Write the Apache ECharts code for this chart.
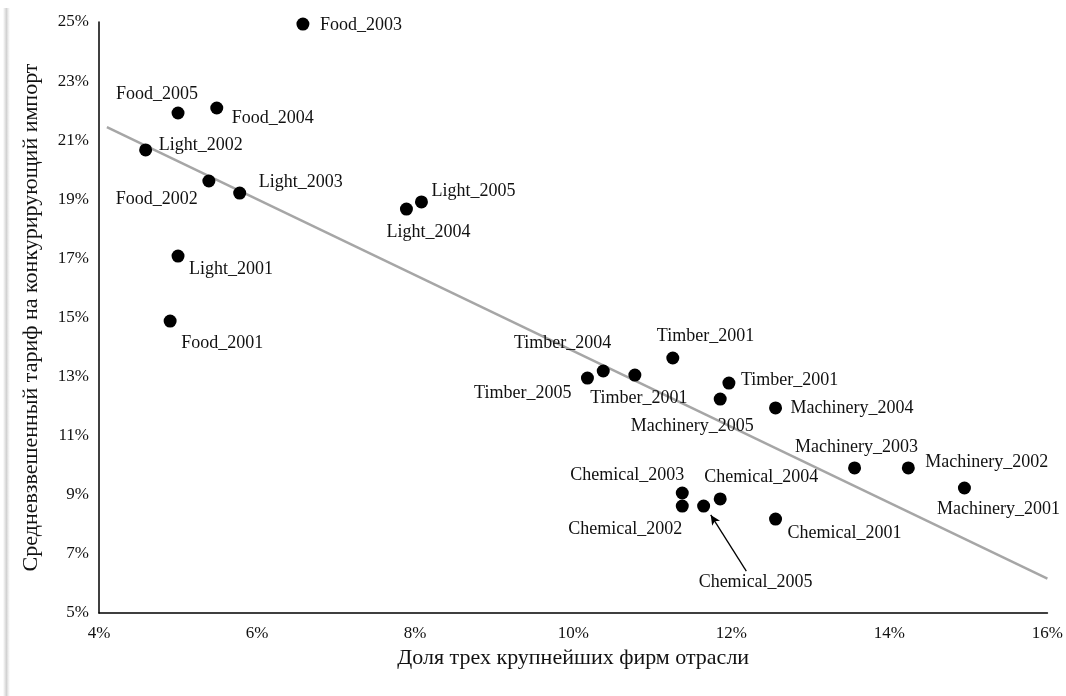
<!DOCTYPE html>
<html>
<head>
<meta charset="utf-8">
<script src="https://cdn.jsdelivr.net/npm/echarts@6/dist/echarts.min.js"></script>
<style>html,body{margin:0;padding:0;background:#fff;}#c{width:1066px;height:696px;}</style>
</head>
<body>
<div id="c"></div>
<script>
// ---- data ----
var pointNames = ['Food_2003','Food_2005','Food_2004','Light_2002','Food_2002','Light_2003','Light_2001','Food_2001',
  'Light_2004','Light_2005','Timber_2005','Timber_2004','Timber_2001','Timber_2001','Timber_2001',
  'Machinery_2005','Machinery_2004','Machinery_2003','Machinery_2002','Machinery_2001',
  'Chemical_2003','Chemical_2002','Chemical_2005','Chemical_2004','Chemical_2001'];
// share of three largest firms, %
var concentration = [6.58,5.00,5.49,4.59,5.39,5.78,5.00,4.90,
  7.89,8.08,10.18,10.38,10.78,11.26,11.97,
  11.86,12.56,13.56,14.24,14.95,
  11.38,11.38,11.65,11.86,12.56];
// weighted average tariff, %
var tariff = [24.93,21.92,22.09,20.67,19.62,19.21,17.08,14.88,
  18.67,18.91,12.95,13.19,13.05,13.63,12.78,
  12.24,11.94,9.91,9.91,9.23,
  9.06,8.62,8.62,8.86,8.18];
var trendX = [4.1, 16];
var trendY = [21.44, 6.16];
var xTicks = [4,6,8,10,12,14,16];
var yTicks = [5,7,9,11,13,15,17,19,21,23,25];
var arrowFrom = [12.19, 6.42];
var arrowTo = [11.74, 8.32];

// ---- label layout (offset from dot centre, alignment) ----
var labelLayout = [
  [17,1,'left'],[-21,-19,'center'],[15,10,'left'],[13,-5,'left'],[-11,18,'right'],[19,-11,'left'],[11,13,'left'],[11,22,'left'],
  [-20,23,'left'],[10,-11,'left'],[-16,15,'right'],[8,-28,'right'],[4,23,'center'],[-16,-22,'left'],[12,-3,'left'],
  [-28,27,'center'],[15,0,'left'],[2,-21,'center'],[17,-6,'left'],[34,21,'center'],
  [2,-18,'right'],[0,23,'right'],[52,76,'center'],[-16,-22,'left'],[12,14,'left']
];

var FONT = 'Liberation Serif';
var TXT = '#111';
var pts = pointNames.map(function(n,i){
  var l = labelLayout[i];
  return {
    name: n,
    value: [concentration[i], tariff[i]],
    label: {show:true, position:'inside', offset:[l[0], l[1]], align:l[2], verticalAlign:'middle',
      formatter: n, color:TXT, fontFamily:FONT, fontSize:18}
  };
});

var chart = echarts.init(document.getElementById('c'), null, {renderer:'canvas'});
chart.setOption({
  animation:false,
  backgroundColor:'#fff',
  graphic:[{
    type:'rect', left:3, top:8, shape:{width:7,height:688}, silent:true,
    style:{fill:new echarts.graphic.LinearGradient(0,0,1,0,[
      {offset:0,color:'rgba(200,200,200,0)'},{offset:0.5,color:'rgba(205,205,205,0.9)'},{offset:1,color:'rgba(220,220,220,0)'}])}
  }],
  grid:{left:99, right:17, top:22, bottom:83, containLabel:false},
  xAxis:{
    type:'value', min:xTicks[0], max:xTicks[xTicks.length-1], interval:2,
    name:'Доля трех крупнейших фирм отрасли', nameLocation:'middle', nameGap:34,
    nameTextStyle:{fontFamily:FONT, fontSize:22, color:TXT},
    axisLine:{show:true, onZero:false, lineStyle:{color:'#000', width:1.5}},
    axisTick:{show:false}, splitLine:{show:false},
    axisLabel:{margin:12, fontFamily:FONT, fontSize:17, color:TXT, formatter:function(v){return v+'%';}}
  },
  yAxis:{
    type:'value', min:yTicks[0], max:yTicks[yTicks.length-1], interval:2,
    name:'Средневзвешенный тариф на конкурирующий импорт', nameLocation:'middle', nameGap:57,
    nameTextStyle:{fontFamily:FONT, fontSize:22, color:TXT},
    axisLine:{show:true, onZero:false, lineStyle:{color:'#000', width:1.5}},
    axisTick:{show:false}, splitLine:{show:false},
    axisLabel:{margin:10, fontFamily:FONT, fontSize:17, color:TXT, formatter:function(v){return v+'%';}}
  },
  series:[
    {type:'line', data:trendX.map(function(x,i){return [x,trendY[i]];}), showSymbol:false, silent:true,
     lineStyle:{color:'#a6a6a6', width:2.5}, z:1},
    {type:'scatter', data:pts, symbol:'circle', symbolSize:13, itemStyle:{color:'#000', opacity:1}, z:3,
     markLine:{silent:true, symbol:['none','arrow'], symbolSize:[7,10], animation:false,
       lineStyle:{color:'#000', width:1.3, type:'solid', opacity:1}, label:{show:false},
       data:[[{coord:arrowFrom},{coord:arrowTo}]]}}
  ]
});
</script>
</body>
</html>
